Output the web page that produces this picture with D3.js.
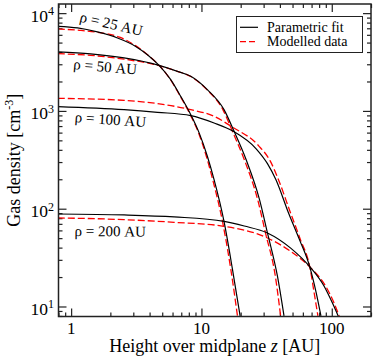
<!DOCTYPE html>
<html>
<head>
<meta charset="utf-8">
<script src="https://cdn.jsdelivr.net/npm/d3@7"></script>
<style>
  body { margin: 0; background: #fff; }
  text { font-family: "Liberation Serif", "Times New Roman", serif; fill: #000; }
</style>
</head>
<body>
<div id="chart"></div>
<script>
// [height z (AU), density (cm^-3)] pairs
const fit25 = [[0.79, 7330], [1.12, 7060], [1.59, 6420], [2.27, 5570], [3.13, 4570], [3.85, 3760], [4.73, 2920], [5.81, 2090], [6.93, 1410], [8.28, 916], [9.6, 596], [11.1, 344], [12.5, 198], [14.9, 74], [17.3, 24], [19.8, 8]];
const mod25 = [[0.79, 6890], [1.16, 6670], [1.65, 6320], [2.35, 5680], [3.12, 4650], [3.85, 3760], [4.73, 2920], [5.78, 2090], [6.88, 1410], [8.2, 916], [9.5, 596], [10.9, 344], [12.2, 198], [14.5, 74], [16.8, 24], [18.9, 8]];
const fit50 = [[0.79, 4010], [1.41, 3830], [2.55, 3480], [4.73, 2920], [6.54, 2540], [8.28, 2260], [11.1, 1650], [14.9, 1030], [17.8, 618], [22.0, 318], [27.9, 124], [32.1, 56.5], [38.3, 20.4], [43.0, 8]];
const mod50 = [[0.79, 3850], [1.41, 3700], [2.55, 3380], [4.73, 2900], [6.54, 2540], [8.28, 2250], [11.0, 1650], [14.6, 1030], [17.3, 618], [21.3, 318], [27.0, 124], [31.0, 56.5], [36.9, 20.4], [40.5, 8]];
const fit100 = [[0.79, 1107], [2.55, 1030], [4.6, 968], [8.28, 895], [12.5, 753], [17.6, 618], [26.3, 410], [32.1, 289], [37.3, 198], [46.5, 91], [56.5, 48.3], [67.8, 25.4], [75.6, 14.2], [82.6, 8]];
const mod100 = [[0.79, 1345], [2.55, 1283], [4.6, 1188], [8.28, 1030], [12.4, 885], [17.3, 683], [27.4, 442], [33.6, 310], [39.0, 198], [48.2, 91], [57.5, 48.3], [67.8, 25.4], [73.0, 14.2], [78.3, 8]];
const fit200 = [[0.79, 88.3], [2.55, 86.3], [6.17, 82.4], [14.9, 74.3], [21.3, 66.5], [32.1, 56.5], [48.4, 39.5], [69.0, 24.8], [87.4, 16.1], [101, 10.9], [112, 8]];
const mod200 = [[0.79, 80.5], [2.55, 77.3], [6.17, 72.6], [14.9, 66.1], [32.1, 50.2], [48.4, 36.6], [69.0, 24.8], [89.9, 16.1], [104, 10.9], [114, 8]];

const xMajor = [1, 10, 100];
const yMajor = [10, 100, 1000, 10000];
const yExponents = ["1", "2", "3", "4"];
const curveLabels = ["ρ = 25 AU", "ρ = 50 AU", "ρ = 100 AU", "ρ = 200 AU"];
const legendNames = ["Parametric fit", "Modelled data"];

const width = 374, height = 357;
const plot = { left: 58.5, right: 371, top: 4, bottom: 316.5 };

const svg = d3.select("#chart")
  .append("svg")
  .attr("width", width)
  .attr("height", height);

const x = d3.scaleLog().domain([0.8, 200]).range([plot.left, plot.right]);
const y = d3.scaleLog().domain([7.9, 12400]).range([plot.bottom, plot.top]);

const xMinor = x.ticks().filter(function (d) { return xMajor.indexOf(d) < 0; });
const yMinor = y.ticks().filter(function (d) { return yMajor.indexOf(d) < 0; });

// Ticks on all four sides, pointing inward
function ticks(axis, values, size, tx, ty) {
  const g = svg.append("g")
    .attr("transform", "translate(" + tx + "," + ty + ")")
    .call(axis.tickValues(values).tickSize(size).tickFormat(""));
  g.select(".domain").remove();
  g.selectAll("line").attr("stroke", "#222").attr("stroke-width", 1.2);
  return g;
}
ticks(d3.axisBottom(x), xMinor, -4, 0, plot.bottom);
ticks(d3.axisBottom(x), xMajor, -8, 0, plot.bottom);
ticks(d3.axisTop(x), xMinor, -4, 0, plot.top);
ticks(d3.axisTop(x), xMajor, -8, 0, plot.top);
ticks(d3.axisLeft(y), yMinor, -4, plot.left, 0);
ticks(d3.axisLeft(y), yMajor, -8, plot.left, 0);
ticks(d3.axisRight(y), yMinor, -4, plot.right, 0);
ticks(d3.axisRight(y), yMajor, -8, plot.right, 0);

// x tick labels
svg.selectAll(".xlab")
  .data(xMajor)
  .enter()
  .append("text")
  .attr("x", function (d) { return x(d); })
  .attr("y", 333.5)
  .attr("text-anchor", "middle")
  .style("font-size", "17px")
  .text(function (d) { return d; });

// y tick labels with superscript
const ylab = svg.selectAll(".ylab")
  .data(yMajor)
  .enter()
  .append("text")
  .attr("x", 54)
  .attr("y", function (d) { return y(d) + 8.5; })
  .attr("text-anchor", "end")
  .style("font-size", "17.5px");
ylab.append("tspan").text("10");
ylab.append("tspan")
  .attr("dy", -6.5)
  .style("font-size", "12px")
  .text(function (d, i) { return yExponents[i]; });

// clip + curves
svg.append("clipPath").attr("id", "clip")
  .append("rect")
  .attr("x", plot.left).attr("y", plot.top)
  .attr("width", plot.right - plot.left).attr("height", plot.bottom - plot.top);

const line = d3.line()
  .x(function (d) { return x(d[0]); })
  .y(function (d) { return y(d[1]); })
  .curve(d3.curveMonotoneX);

const curves = svg.append("g").attr("clip-path", "url(#clip)");
[mod25, mod50, mod100, mod200].forEach(function (s) {
  curves.append("path").attr("d", line(s))
    .attr("fill", "none").attr("stroke", "#ff0000")
    .attr("stroke-width", 1.3).attr("stroke-dasharray", "7,3");
});
[fit25, fit50, fit100, fit200].forEach(function (s) {
  curves.append("path").attr("d", line(s))
    .attr("fill", "none").attr("stroke", "#000")
    .attr("stroke-width", 1.2);
});

// frame
svg.append("rect")
  .attr("x", plot.left).attr("y", plot.top)
  .attr("width", plot.right - plot.left).attr("height", plot.bottom - plot.top)
  .attr("fill", "none").attr("stroke", "#222").attr("stroke-width", 1.5);

// curve labels
const labelPos = [[79, 21.5, 13], [73, 69, 5], [74.5, 122, 4], [74.5, 236, 0.5]];
curveLabels.forEach(function (t, i) {
  svg.append("text")
    .attr("transform", "translate(" + labelPos[i][0] + "," + labelPos[i][1] + ") rotate(" + labelPos[i][2] + ")")
    .style("font-size", "15px")
    .text(t);
});

// legend
const legend = svg.append("g");
legend.append("rect")
  .attr("x", 236.5).attr("y", 16.5).attr("width", 126).attr("height", 36)
  .attr("fill", "#fff").attr("stroke", "#222").attr("stroke-width", 1);
legend.append("line").attr("x1", 240).attr("x2", 258).attr("y1", 27.3).attr("y2", 27.3)
  .attr("stroke", "#000").attr("stroke-width", 1.2);
legend.append("line").attr("x1", 240).attr("x2", 258).attr("y1", 41.7).attr("y2", 41.7)
  .attr("stroke", "#ff0000").attr("stroke-width", 1.3).attr("stroke-dasharray", "6,3");
legendNames.forEach(function (t, i) {
  legend.append("text")
    .attr("x", 267).attr("y", 32 + i * 14.4)
    .style("font-size", "14px")
    .text(t);
});

// axis titles
const xt = svg.append("text")
  .attr("x", (plot.left + plot.right) / 2)
  .attr("y", 352)
  .attr("text-anchor", "middle")
  .style("font-size", "18px");
xt.append("tspan").text("Height over midplane ");
xt.append("tspan").style("font-style", "italic").text("z");
xt.append("tspan").text(" [AU]");

const yt = svg.append("text")
  .attr("transform", "translate(20," + ((plot.top + plot.bottom) / 2) + ") rotate(-90)")
  .attr("text-anchor", "middle")
  .style("font-size", "18px");
yt.append("tspan").text("Gas density [cm");
yt.append("tspan").attr("dy", -7).style("font-size", "12px").text("-3");
yt.append("tspan").attr("dy", 7).text("]");
</script>
</body>
</html>
